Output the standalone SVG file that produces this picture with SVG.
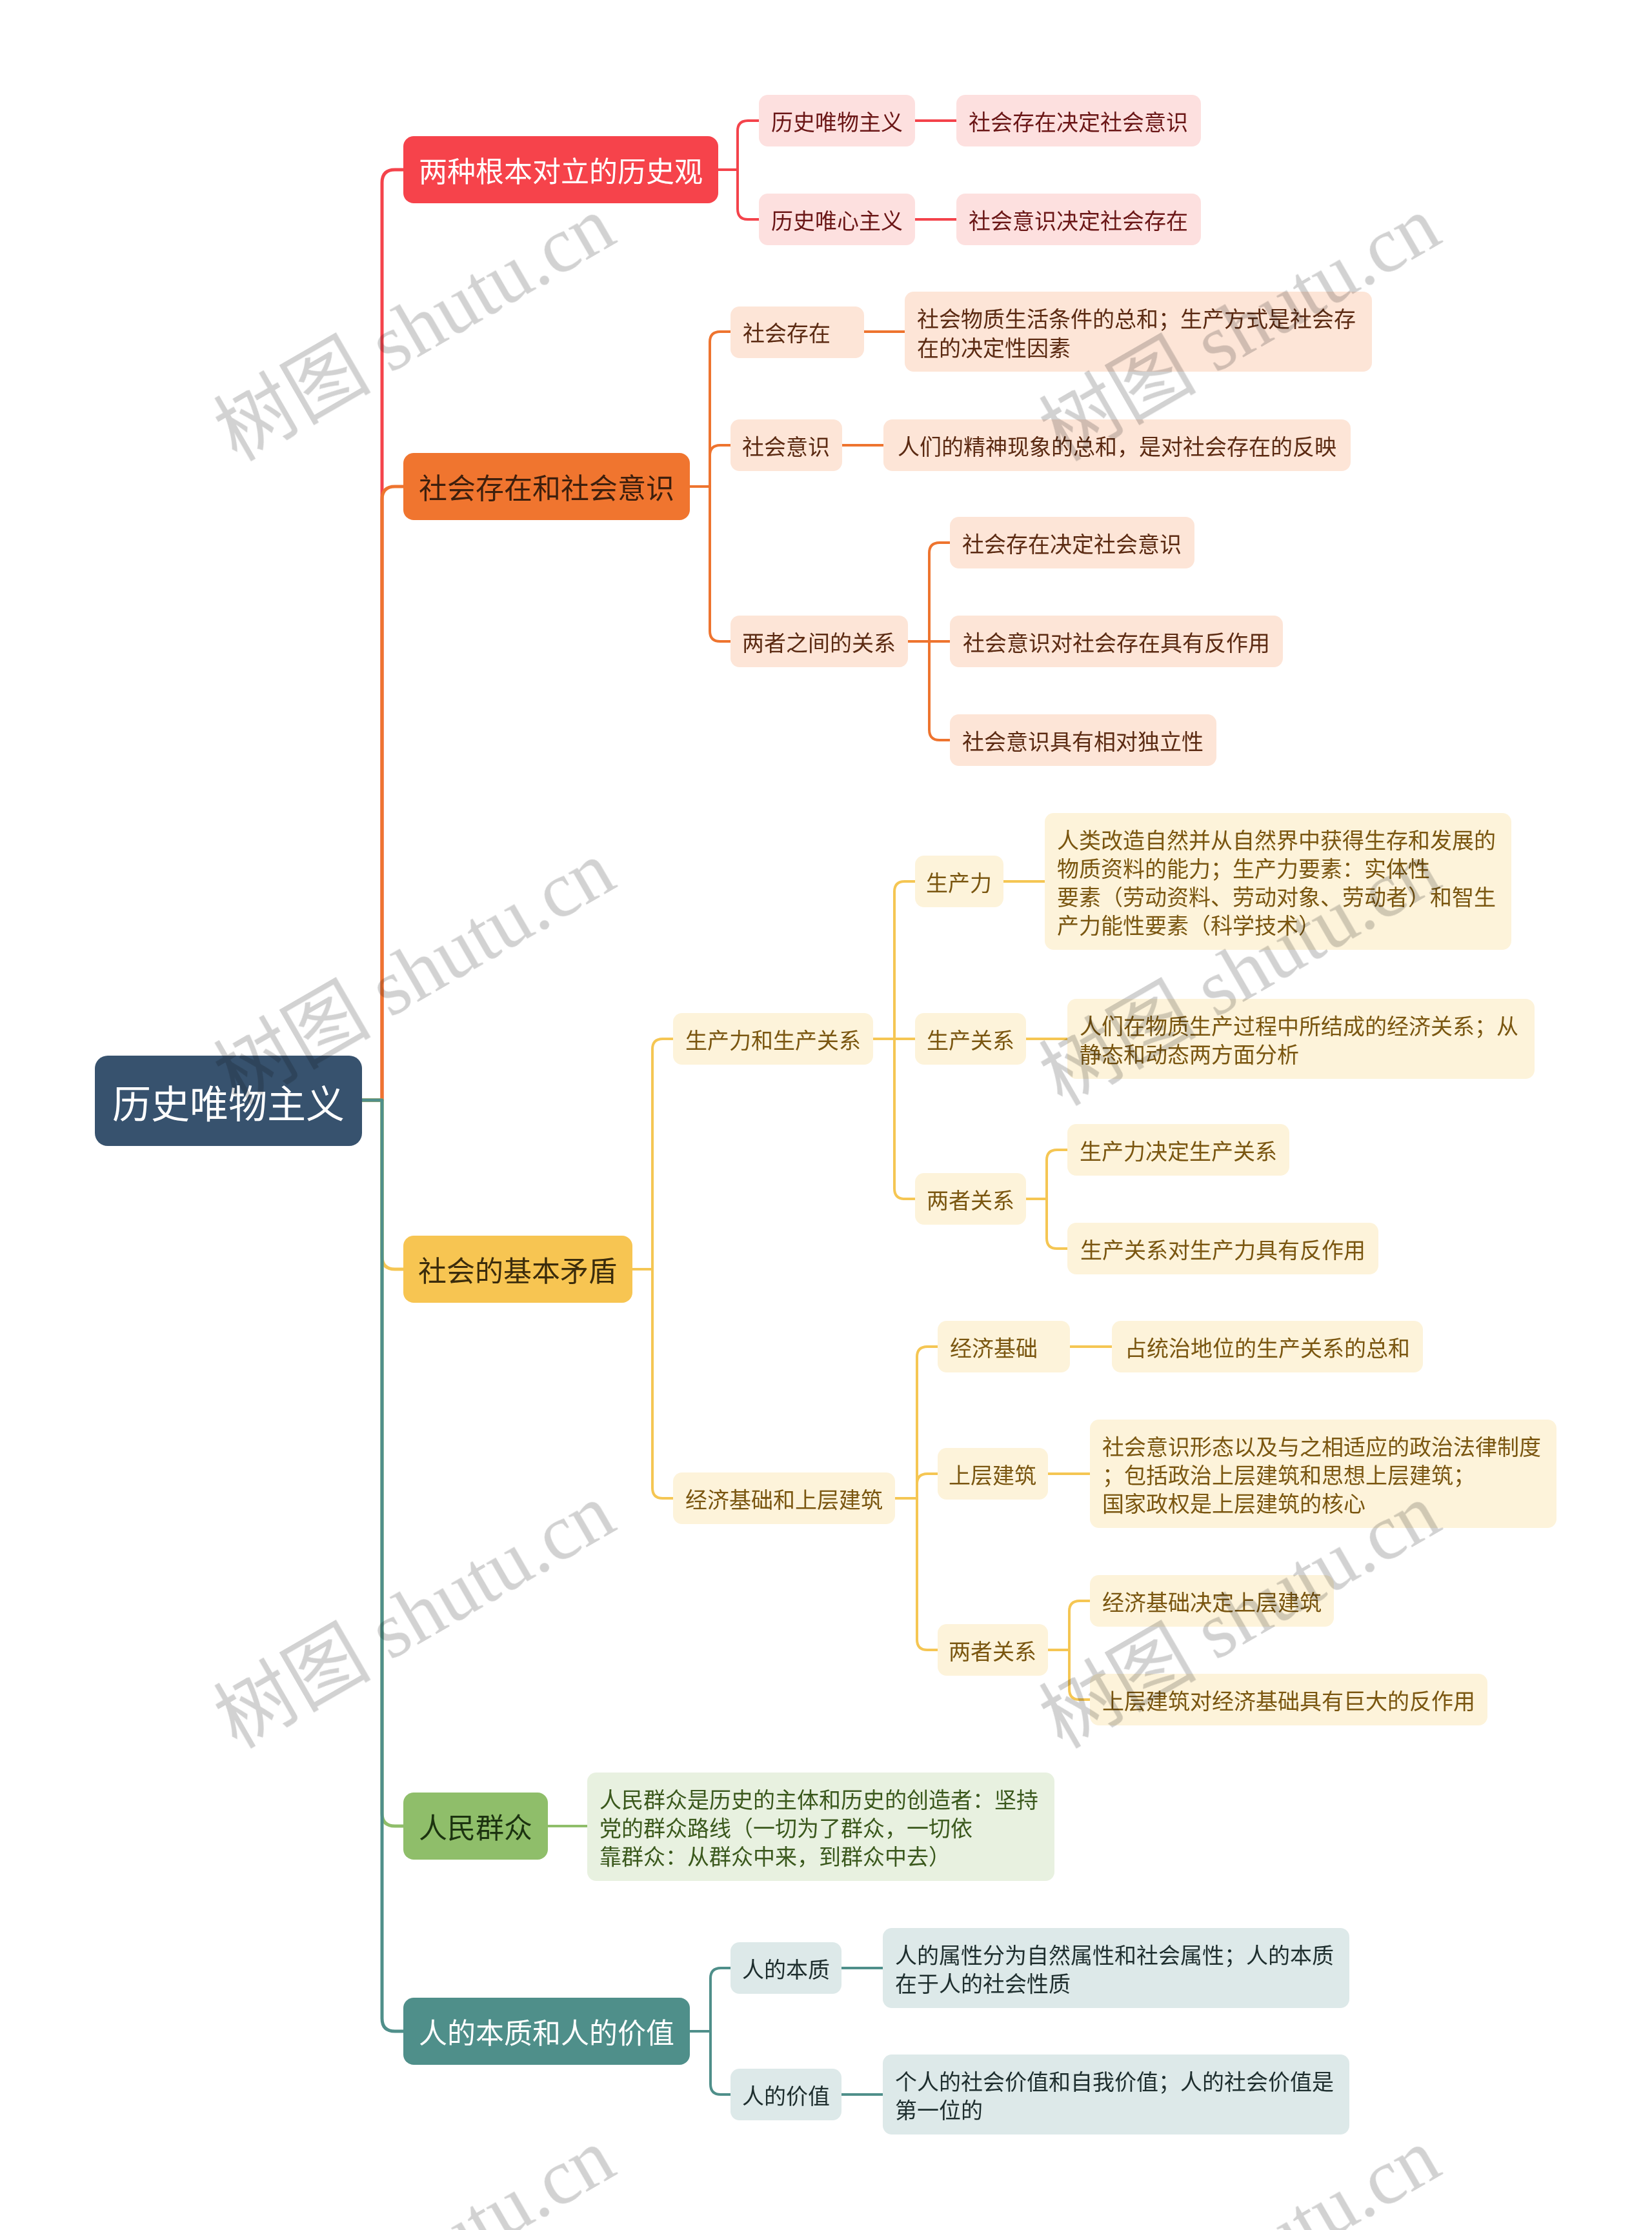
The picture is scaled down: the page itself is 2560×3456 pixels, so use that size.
<svg xmlns="http://www.w3.org/2000/svg" width="2560" height="3456" viewBox="0 0 2560 3456">
<style>
text{font-family:"Noto Sans CJK SC","Noto Sans",sans-serif;}
.c{text-anchor:middle;dominant-baseline:central;}
.l{dominant-baseline:central;}
.t0{font-size:60px;fill:#ffffff;}
.t1{font-size:44px;}
.t2{font-size:34px;}
.ln{fill:none;stroke-linejoin:round;}
.m{stroke-width:5;}
.s{stroke-width:4;}
.red{stroke:#f4434b;} .org{stroke:#ee742f;} .yel{stroke:#f5c653;} .grn{stroke:#8fbe6a;} .tea{stroke:#4f8f8a;}
.fr{fill:#fde0df;} .tr{fill:#6a1616;}
.fo{fill:#fde5d7;} .to{fill:#5b2a12;}
.fy{fill:#fdf3da;} .ty{fill:#7a5610;}
.fg{fill:#e8f1e0;} .tg{fill:#3a581c;}
.ft{fill:#dde9e9;} .tt{fill:#1e2e2e;}
.wm{font-family:"Liberation Serif","Noto Sans CJK SC",serif;font-size:122px;fill:#d2d2d2;text-anchor:middle;}
#watermarks{mix-blend-mode:multiply;}
</style>

<g id="connectors">
  <!-- main branches -->
  <path class="ln m red" d="M561,1705 H592 V283 Q592,263 612,263 H625"/>
  <path class="ln m org" d="M561,1705 H592 V774 Q592,754 612,754 H625"/>
  <path class="ln m yel" d="M561,1705 H592 V1947 Q592,1967 612,1967 H625"/>
  <path class="ln m grn" d="M561,1705 H592 V2810 Q592,2830 612,2830 H625"/>
  <path class="ln m tea" d="M561,1705 H592 V3128 Q592,3148 612,3148 H625"/>
  <!-- red -->
  <path class="ln s red" d="M1112,263 H1143 V203 Q1143,187 1159,187 H1176"/>
  <path class="ln s red" d="M1112,263 H1143 V324 Q1143,340 1159,340 H1176"/>
  <path class="ln s red" d="M1418,187 H1482"/>
  <path class="ln s red" d="M1418,340 H1482"/>
  <!-- orange -->
  <path class="ln s org" d="M1068,754 H1100 V530 Q1100,514 1116,514 H1132"/>
  <path class="ln s org" d="M1068,754 H1100 V706 Q1100,690 1116,690 H1132"/>
  <path class="ln s org" d="M1068,754 H1100 V978 Q1100,994 1116,994 H1132"/>
  <path class="ln s org" d="M1338,514 H1402"/>
  <path class="ln s org" d="M1305,690 H1369"/>
  <path class="ln s org" d="M1407,994 H1440 V857 Q1440,841 1456,841 H1472"/>
  <path class="ln s org" d="M1407,994 H1472"/>
  <path class="ln s org" d="M1440,994 V1131 Q1440,1147 1456,1147 H1472"/>
  <!-- yellow -->
  <path class="ln s yel" d="M980,1967 H1011 V1626 Q1011,1610 1027,1610 H1043"/>
  <path class="ln s yel" d="M980,1967 H1011 V2306 Q1011,2322 1027,2322 H1043"/>
  <path class="ln s yel" d="M1353,1610 H1386 V1382 Q1386,1366 1402,1366 H1418"/>
  <path class="ln s yel" d="M1353,1610 H1418"/>
  <path class="ln s yel" d="M1386,1610 V1842 Q1386,1858 1402,1858 H1418"/>
  <path class="ln s yel" d="M1555,1366 H1619"/>
  <path class="ln s yel" d="M1590,1610 H1654"/>
  <path class="ln s yel" d="M1590,1858 H1622 V1798 Q1622,1782 1638,1782 H1654"/>
  <path class="ln s yel" d="M1622,1858 V1919 Q1622,1935 1638,1935 H1654"/>
  <path class="ln s yel" d="M1387,2322 H1421 V2103 Q1421,2087 1437,2087 H1453"/>
  <path class="ln s yel" d="M1387,2322 H1421 V2300 Q1421,2284 1437,2284 H1453"/>
  <path class="ln s yel" d="M1421,2322 V2541 Q1421,2557 1437,2557 H1453"/>
  <path class="ln s yel" d="M1658,2087 H1723"/>
  <path class="ln s yel" d="M1624,2284 H1689"/>
  <path class="ln s yel" d="M1624,2557 H1657 V2497 Q1657,2481 1673,2481 H1689"/>
  <path class="ln s yel" d="M1657,2557 V2618 Q1657,2634 1673,2634 H1689"/>
  <!-- green -->
  <path class="ln s grn" d="M849,2830 H910"/>
  <!-- teal -->
  <path class="ln s tea" d="M1068,3148 H1101 V3066 Q1101,3050 1117,3050 H1132"/>
  <path class="ln s tea" d="M1068,3148 H1101 V3230 Q1101,3246 1117,3246 H1132"/>
  <path class="ln s tea" d="M1304,3050 H1368"/>
  <path class="ln s tea" d="M1304,3246 H1368"/>
</g>

<g id="root">
  <rect x="147" y="1636" width="414" height="140" rx="20" fill="#37526e"/>
  <text class="c t0" x="354" y="1706">历史唯物主义</text>
</g>

<!-- Branch 1: red -->
<g id="b1">
  <rect x="625" y="211" width="488" height="104" rx="16" fill="#f6434b"/>
  <text class="c t1" x="869" y="263" fill="#ffffff">两种根本对立的历史观</text>
</g>
<g id="b1-1"><rect class="fr" x="1176" y="147" width="242" height="80" rx="14"/><text class="c t2 tr" x="1297" y="187">历史唯物主义</text></g>
<g id="b1-1-1"><rect class="fr" x="1482" y="147" width="379" height="80" rx="14"/><text class="c t2 tr" x="1671" y="187">社会存在决定社会意识</text></g>
<g id="b1-2"><rect class="fr" x="1176" y="300" width="242" height="80" rx="14"/><text class="c t2 tr" x="1297" y="340">历史唯心主义</text></g>
<g id="b1-2-1"><rect class="fr" x="1482" y="300" width="379" height="80" rx="14"/><text class="c t2 tr" x="1671" y="340">社会意识决定社会存在</text></g>

<!-- Branch 2: orange -->
<g id="b2">
  <rect x="625" y="702" width="444" height="104" rx="16" fill="#f0752f"/>
  <text class="c t1" x="847" y="754" fill="#3d1f0d">社会存在和社会意识</text>
</g>
<g id="b2-1"><rect class="fo" x="1132" y="475" width="207" height="80" rx="14"/><text class="l t2 to" x="1151" y="514">社会存在</text></g>
<g id="b2-1-1"><rect class="fo" x="1402" y="452" width="724" height="124" rx="14"/>
  <text class="l t2 to"><tspan x="1421" y="492">社会物质生活条件的总和；生产方式是社会存</tspan><tspan x="1421" y="537">在的决定性因素</tspan></text></g>
<g id="b2-2"><rect class="fo" x="1132" y="650" width="173" height="80" rx="14"/><text class="c t2 to" x="1218" y="690">社会意识</text></g>
<g id="b2-2-1"><rect class="fo" x="1369" y="650" width="724" height="80" rx="14"/><text class="c t2 to" x="1731" y="690">人们的精神现象的总和，是对社会存在的反映</text></g>
<g id="b2-3"><rect class="fo" x="1132" y="954" width="275" height="80" rx="14"/><text class="c t2 to" x="1269" y="994">两者之间的关系</text></g>
<g id="b2-3-1"><rect class="fo" x="1472" y="801" width="379" height="80" rx="14"/><text class="c t2 to" x="1661" y="841">社会存在决定社会意识</text></g>
<g id="b2-3-2"><rect class="fo" x="1472" y="954" width="516" height="80" rx="14"/><text class="c t2 to" x="1730" y="994">社会意识对社会存在具有反作用</text></g>
<g id="b2-3-3"><rect class="fo" x="1472" y="1107" width="413" height="80" rx="14"/><text class="c t2 to" x="1678" y="1147">社会意识具有相对独立性</text></g>

<!-- Branch 3: yellow -->
<g id="b3">
  <rect x="625" y="1915" width="355" height="104" rx="16" fill="#f7c552"/>
  <text class="c t1" x="802" y="1967" fill="#3b2c0c">社会的基本矛盾</text>
</g>
<g id="b3-1"><rect class="fy" x="1043" y="1570" width="310" height="80" rx="14"/><text class="c t2 ty" x="1198" y="1610">生产力和生产关系</text></g>
<g id="b3-1-1"><rect class="fy" x="1418" y="1326" width="137" height="80" rx="14"/><text class="c t2 ty" x="1486" y="1366">生产力</text></g>
<g id="b3-1-1-1"><rect class="fy" x="1619" y="1260" width="723" height="212" rx="14"/>
  <text class="l t2 ty"><tspan x="1638" y="1300">人类改造自然并从自然界中获得生存和发展的</tspan><tspan x="1638" y="1344">物质资料的能力；生产力要素：实体性</tspan><tspan x="1638" y="1388">要素（劳动资料、劳动对象、劳动者）和智生</tspan><tspan x="1638" y="1432">产力能性要素（科学技术）</tspan></text></g>
<g id="b3-1-2"><rect class="fy" x="1418" y="1570" width="172" height="80" rx="14"/><text class="c t2 ty" x="1504" y="1610">生产关系</text></g>
<g id="b3-1-2-1"><rect class="fy" x="1654" y="1548" width="724" height="124" rx="14"/>
  <text class="l t2 ty"><tspan x="1673" y="1588">人们在物质生产过程中所结成的经济关系；从</tspan><tspan x="1673" y="1632">静态和动态两方面分析</tspan></text></g>
<g id="b3-1-3"><rect class="fy" x="1418" y="1818" width="172" height="80" rx="14"/><text class="c t2 ty" x="1504" y="1858">两者关系</text></g>
<g id="b3-1-3-1"><rect class="fy" x="1654" y="1742" width="344" height="80" rx="14"/><text class="c t2 ty" x="1826" y="1782">生产力决定生产关系</text></g>
<g id="b3-1-3-2"><rect class="fy" x="1654" y="1895" width="482" height="80" rx="14"/><text class="c t2 ty" x="1895" y="1935">生产关系对生产力具有反作用</text></g>
<g id="b3-2"><rect class="fy" x="1043" y="2282" width="344" height="80" rx="14"/><text class="c t2 ty" x="1215" y="2322">经济基础和上层建筑</text></g>
<g id="b3-2-1"><rect class="fy" x="1453" y="2047" width="205" height="80" rx="14"/><text class="l t2 ty" x="1472" y="2087">经济基础</text></g>
<g id="b3-2-1-1"><rect class="fy" x="1723" y="2047" width="482" height="80" rx="14"/><text class="c t2 ty" x="1964" y="2087">占统治地位的生产关系的总和</text></g>
<g id="b3-2-2"><rect class="fy" x="1453" y="2244" width="171" height="80" rx="14"/><text class="c t2 ty" x="1538" y="2284">上层建筑</text></g>
<g id="b3-2-2-1"><rect class="fy" x="1689" y="2200" width="723" height="168" rx="14"/>
  <text class="l t2 ty"><tspan x="1708" y="2240">社会意识形态以及与之相适应的政治法律制度</tspan><tspan x="1708" y="2284">；包括政治上层建筑和思想上层建筑；</tspan><tspan x="1708" y="2328">国家政权是上层建筑的核心</tspan></text></g>
<g id="b3-2-3"><rect class="fy" x="1453" y="2517" width="171" height="80" rx="14"/><text class="c t2 ty" x="1538" y="2557">两者关系</text></g>
<g id="b3-2-3-1"><rect class="fy" x="1689" y="2441" width="378" height="80" rx="14"/><text class="c t2 ty" x="1878" y="2481">经济基础决定上层建筑</text></g>
<g id="b3-2-3-2"><rect class="fy" x="1689" y="2594" width="616" height="80" rx="14"/><text class="c t2 ty" x="1997" y="2634">上层建筑对经济基础具有巨大的反作用</text></g>

<!-- Branch 4: green -->
<g id="b4">
  <rect x="625" y="2778" width="224" height="104" rx="16" fill="#8fbe6a"/>
  <text class="c t1" x="737" y="2830" fill="#1c3310">人民群众</text>
</g>
<g id="b4-1"><rect class="fg" x="910" y="2747" width="724" height="168" rx="14"/>
  <text class="l t2 tg"><tspan x="929" y="2787">人民群众是历史的主体和历史的创造者：坚持</tspan><tspan x="929" y="2831">党的群众路线（一切为了群众，一切依</tspan><tspan x="929" y="2875">靠群众：从群众中来，到群众中去）</tspan></text></g>

<!-- Branch 5: teal -->
<g id="b5">
  <rect x="625" y="3096" width="444" height="104" rx="16" fill="#4f8f8a"/>
  <text class="c t1" x="847" y="3148" fill="#ffffff">人的本质和人的价值</text>
</g>
<g id="b5-1"><rect class="ft" x="1132" y="3010" width="172" height="80" rx="14"/><text class="c t2 tt" x="1218" y="3050">人的本质</text></g>
<g id="b5-1-1"><rect class="ft" x="1368" y="2988" width="723" height="124" rx="14"/>
  <text class="l t2 tt"><tspan x="1387" y="3028">人的属性分为自然属性和社会属性；人的本质</tspan><tspan x="1387" y="3072">在于人的社会性质</tspan></text></g>
<g id="b5-2"><rect class="ft" x="1132" y="3206" width="172" height="80" rx="14"/><text class="c t2 tt" x="1218" y="3246">人的价值</text></g>
<g id="b5-2-1"><rect class="ft" x="1368" y="3184" width="723" height="124" rx="14"/>
  <text class="l t2 tt"><tspan x="1387" y="3224">个人的社会价值和自我价值；人的社会价值是</tspan><tspan x="1387" y="3268">第一位的</tspan></text></g>

<g id="watermarks">
  <text class="wm" x="644" y="550" transform="rotate(-30 644 512)">树图 shutu.cn</text>
  <text class="wm" x="1923" y="550" transform="rotate(-30 1923 512)">树图 shutu.cn</text>
  <text class="wm" x="644" y="1549" transform="rotate(-30 644 1511)">树图 shutu.cn</text>
  <text class="wm" x="1923" y="1549" transform="rotate(-30 1923 1511)">树图 shutu.cn</text>
  <text class="wm" x="644" y="2545" transform="rotate(-30 644 2507)">树图 shutu.cn</text>
  <text class="wm" x="1923" y="2545" transform="rotate(-30 1923 2507)">树图 shutu.cn</text>
  <text class="wm" x="644" y="3544" transform="rotate(-30 644 3506)">树图 shutu.cn</text>
  <text class="wm" x="1923" y="3544" transform="rotate(-30 1923 3506)">树图 shutu.cn</text>
</g>
</svg>
